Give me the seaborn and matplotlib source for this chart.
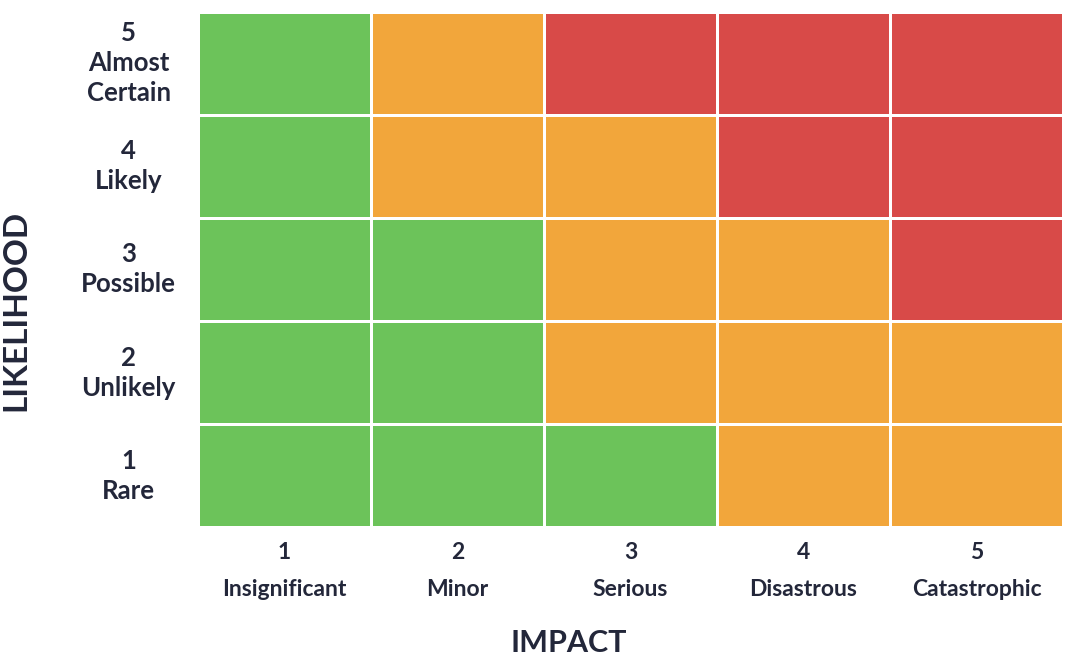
import matplotlib
matplotlib.use("Agg")
import matplotlib.pyplot as plt
from matplotlib.colors import ListedColormap
import numpy as np
import pandas as pd
import seaborn as sns

# Risk levels: 1 = low (green), 2 = medium (amber), 3 = high (red)
impact_labels = ["1\nInsignificant", "2\nMinor", "3\nSerious", "4\nDisastrous", "5\nCatastrophic"]
likelihood_labels = ["5\nAlmost\nCertain", "4\nLikely", "3\nPossible", "2\nUnlikely", "1\nRare"]

row_almost_certain = [1, 2, 3, 3, 3]
row_likely = [1, 2, 2, 3, 3]
row_possible = [1, 1, 2, 2, 3]
row_unlikely = [1, 1, 2, 2, 2]
row_rare = [1, 1, 1, 2, 2]

risk = pd.DataFrame(
    [row_almost_certain, row_likely, row_possible, row_unlikely, row_rare],
    index=likelihood_labels,
    columns=impact_labels,
)

level_colors = ["#6cc35a", "#f2a63b", "#d84a48"]
text_color = "#23273a"

sns.set_theme(style="white")
plt.rcParams["font.family"] = ["Lato", "DejaVu Sans"]

fig = plt.figure(figsize=(10.67, 6.58), dpi=100)
ax = fig.add_axes([0.1856, 0.199, 0.8107, 0.7829])

sns.heatmap(
    risk,
    ax=ax,
    cmap=ListedColormap(level_colors),
    vmin=0.5,
    vmax=3.5,
    cbar=False,
    linewidths=2.0,
    linecolor="white",
    square=False,
)

ax.tick_params(axis="both", length=0)
ax.tick_params(axis="y", pad=50)
ax.tick_params(axis="x", pad=11)
for lbl in ax.get_yticklabels():
    lbl.set_rotation(0)
    lbl.set_ha("center")
    lbl.set_va("center")
    lbl.set_multialignment("center")
    lbl.set_fontsize(18.5)
    lbl.set_fontweight("bold")
    lbl.set_color(text_color)
    lbl.set_linespacing(1.3)
for lbl in ax.get_xticklabels():
    lbl.set_rotation(0)
    lbl.set_ha("center")
    lbl.set_multialignment("center")
    lbl.set_fontsize(16.5)
    lbl.set_fontweight("bold")
    lbl.set_color(text_color)
    lbl.set_linespacing(1.9)

ax.set_ylabel("LIKELIHOOD", fontsize=24, fontweight="bold", color=text_color)
ax.set_xlabel("IMPACT", fontsize=22, fontweight="bold", color=text_color)
ax.yaxis.set_label_coords(-0.194, 0.42)
ax.xaxis.set_label_coords(0.429, -0.198)

fig.savefig("out.png", dpi=100, facecolor="white")
